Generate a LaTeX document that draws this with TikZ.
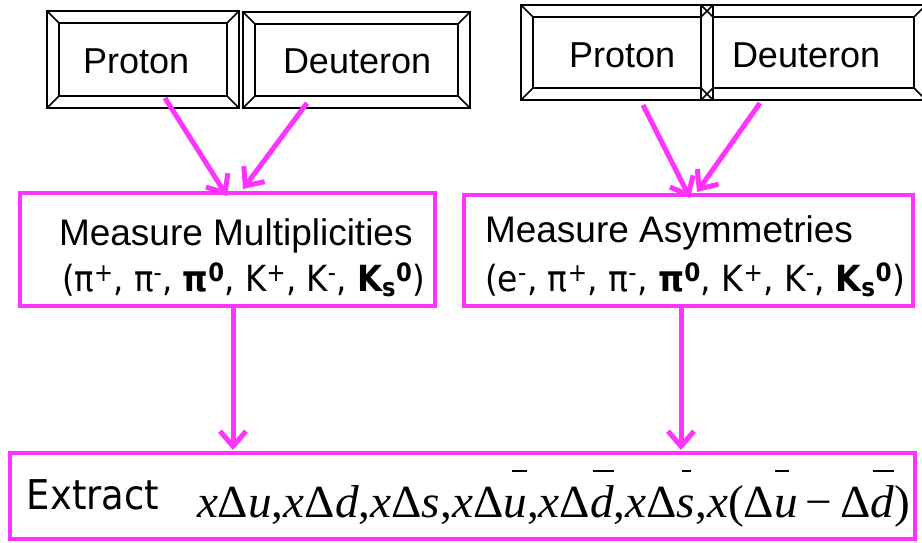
\documentclass[tikz,border=0pt]{standalone}
\usepackage{fontspec}
\setmainfont{Liberation Sans}
\newfontfamily\particlefont{DejaVu Sans Condensed}
\newfontfamily\extractfont{DejaVu Sans Condensed}
\newfontfamily\formulafont{Liberation Serif}
\usetikzlibrary{arrows.meta,calc}

\definecolor{flowpink}{RGB}{255,51,255}

% beveled frame: left, top, right, bottom (bevel depth 12)
\newcommand{\bevelframe}[4]{%
  \draw[bevelline] (#1,#2) rectangle (#3,#4);
  \draw[bevelline] (#1+12,#2+12) rectangle (#3-12,#4-12);
  \draw[bevelline] (#1,#2) -- (#1+12,#2+12)
                   (#3,#2) -- (#3-12,#2+12)
                   (#1,#4) -- (#1+12,#4-12)
                   (#3,#4) -- (#3-12,#4-12);
}
% high antiquark bar: offset, width, letter
\newcommand{\hibar}[3]{\makebox[0pt][l]{\hspace*{#1}\rule[0.98em]{#2}{0.05em}}\textit{#3}}
\newcommand{\xD}{\textit{x}Δ}

\begin{document}
\begin{tikzpicture}[x=1pt,y=-1pt,
  bevelline/.style={black,line width=1.6pt},
  label/.style={inner sep=0pt,outer sep=0pt,anchor=base west},
  pinkbox/.style={draw=flowpink,line width=4.5pt,inner sep=0pt,outer sep=0pt},
  flowarrow/.style={draw=flowpink,line width=5pt,
    -{Straight Barb[length=15pt,width=26pt,line width=5pt]}}]
\clip (0,0) rectangle (922,542);

% target beveled boxes
\bevelframe{47}{11}{239}{108}
\bevelframe{243}{12}{470}{108}
\bevelframe{521}{5}{713}{100}
\bevelframe{701}{5}{926}{100}

\node[label,font=\fontsize{36}{36}\selectfont] (p1) at (83,73) {Proton};
\node[label,font=\fontsize{36}{36}\selectfont] (d1) at (283,73) {Deuteron};
\node[label,font=\fontsize{36}{36}\selectfont] (p2) at (569,67) {Proton};
\node[label,font=\fontsize{36}{36}\selectfont] (d2) at (732,67) {Deuteron};

\coordinate (p1-out) at (165,98);
\coordinate (d1-out) at (307,103);
\coordinate (p2-out) at (643,105);
\coordinate (d2-out) at (760,103);

% measurement boxes
\node[pinkbox,minimum width=415pt,minimum height=113pt] (mult) at (227.5,249.5) {};
\node[pinkbox,minimum width=449pt,minimum height=111pt] (asym) at (688.5,250.5) {};
\node[label,font=\fontsize{37}{37}\selectfont] (multA) at (59,245) {Measure Multiplicities};
\node[label,font=\particlefont\fontsize{36}{36}\selectfont] (multB) at (62,291)
  {\resizebox{363pt}{\height}{(π\textsuperscript{+}, π\textsuperscript{-}, \textbf{π\textsuperscript{0}}, K\textsuperscript{+}, K\textsuperscript{-}, \textbf{K\textsubscript{s}\textsuperscript{0}})}};
\node[label,font=\fontsize{37}{37}\selectfont] (asymA) at (485,242) {Measure Asymmetries};
\node[label,font=\particlefont\fontsize{36}{36}\selectfont] (asymB) at (485,291)
  {\resizebox{420pt}{\height}{(e\textsuperscript{-}, π\textsuperscript{+}, π\textsuperscript{-}, \textbf{π\textsuperscript{0}}, K\textsuperscript{+}, K\textsuperscript{-}, \textbf{K\textsubscript{s}\textsuperscript{0}})}};

% extraction box
\node[pinkbox,minimum width=905pt,minimum height=86pt] (extr) at (462.5,496) {};
\node[label,font=\extractfont\fontsize{41}{41}\selectfont] (extrA) at (27,509) {Extract};
\node[label,font=\formulafont\fontsize{46}{46}\selectfont] (extrB) at (197,517)
  {\resizebox{713pt}{\height}{\xD\textit{u},\xD\textit{d},\xD\textit{s},\xD\hibar{0.18em}{0.32em}{u},\xD\hibar{0.06em}{0.44em}{d},\xD\hibar{0.1em}{0.2em}{s},\textit{x}(Δ\hibar{0.02em}{0.3em}{u}\,−\,Δ\hibar{0.06em}{0.44em}{d})}};

% connectors
\draw[flowarrow] (p1-out) -- ($(mult.north west)+(207,3)$);
\draw[flowarrow] (d1-out) -- ($(mult.north west)+(223,-4)$);
\draw[flowarrow] (p2-out) -- ($(asym.north west)+(226,3)$);
\draw[flowarrow] (d2-out) -- ($(asym.north west)+(233,-3)$);
\draw[flowarrow] (mult.south -| 233,0) -- ($(extr.north west)+(223,-3)$);
\draw[flowarrow] (asym.south -| 681,0) -- ($(extr.north west)+(671,-3)$);
\end{tikzpicture}
\end{document}
